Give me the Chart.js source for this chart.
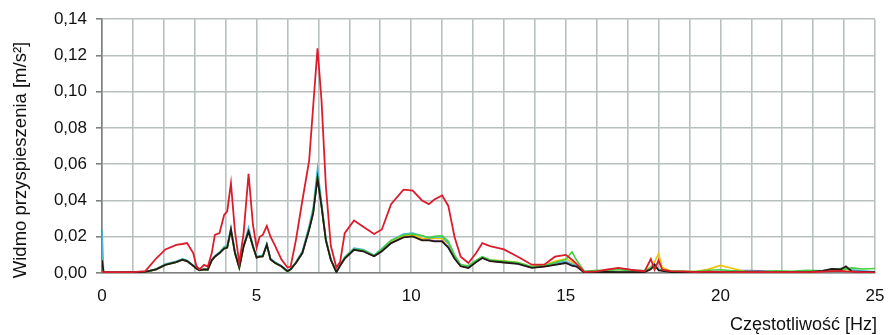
<!DOCTYPE html>
<html>
<head>
<meta charset="utf-8">
<script src="https://cdn.jsdelivr.net/npm/chart.js@4/dist/chart.umd.min.js"></script>
<style>
  body { margin: 0; background: #fff; }
  #wrap { width: 890px; height: 335px; }
</style>
</head>
<body>
<div id="wrap"><canvas id="chart"></canvas></div>
<script>
// frequency points [Hz] shared by all traces
const freq = [
  0, 0.05, 0.5, 1.0, 1.4, 1.75, 2.05, 2.4, 2.6, 2.75,
  2.95, 3.05, 3.15, 3.3, 3.42, 3.55, 3.65, 3.8, 3.95, 4.05,
  4.17, 4.3, 4.44, 4.58, 4.74, 4.88, 5.0, 5.1, 5.2, 5.33,
  5.45, 5.6, 5.8, 6.0, 6.1, 6.27, 6.48, 6.7, 6.83, 6.97,
  7.1, 7.24, 7.4, 7.58, 7.7, 7.85, 8.15, 8.45, 8.8, 9.05,
  9.35, 9.75, 10.05, 10.35, 10.57, 10.75, 11.0, 11.2, 11.4, 11.6,
  11.85, 12.1, 12.3, 12.55, 13.0, 13.45, 13.9, 14.3, 14.65, 15.0,
  15.2, 15.35, 15.6, 16.0, 16.3, 16.7, 17.1, 17.55, 17.75, 17.87,
  18.0, 18.12, 18.4, 18.8, 19.2, 19.6, 20.0, 20.4, 20.8, 21.3,
  21.8, 22.3, 22.8, 23.3, 23.6, 23.9, 24.06, 24.25, 24.6, 25.0
];

const red = [
  0.001, 0.0005, 0.0004, 0.0005, 0.001, 0.008, 0.013, 0.0155, 0.016, 0.0165,
  0.011, 0.004, 0.002, 0.0045, 0.0035, 0.011, 0.021, 0.022, 0.032, 0.034,
  0.0495, 0.023, 0.0055, 0.022, 0.0547, 0.027, 0.014, 0.020, 0.021, 0.026,
  0.020, 0.015, 0.0075, 0.003, 0.0035, 0.018, 0.040, 0.062, 0.092, 0.124,
  0.095, 0.048, 0.015, 0.003, 0.006, 0.022, 0.029, 0.0255, 0.0215, 0.024,
  0.038, 0.046, 0.0455, 0.040, 0.038, 0.0405, 0.0428, 0.037, 0.020, 0.009,
  0.0055, 0.011, 0.0165, 0.0148, 0.013, 0.009, 0.0046, 0.0046, 0.009, 0.010,
  0.0073, 0.005, 0.0006, 0.0009, 0.0018, 0.0028, 0.0018, 0.001, 0.0077, 0.0018,
  0.007, 0.0018, 0.001, 0.0009, 0.0005, 0.0008, 0.0006, 0.0004, 0.0005, 0.0004,
  0.0004, 0.0004, 0.0005, 0.0008, 0.001, 0.0012, 0.0009, 0.0008, 0.0005, 0.0002
];

const black = [
  0.007, 0.0005, 0.0003, 0.0004, 0.0006, 0.002, 0.0045, 0.006, 0.0073, 0.0066,
  0.004, 0.0025, 0.0015, 0.002, 0.0018, 0.007, 0.009, 0.011, 0.0135, 0.014,
  0.024, 0.011, 0.003, 0.0147, 0.023, 0.0147, 0.0085, 0.009, 0.0092, 0.0156,
  0.0075, 0.0055, 0.0037, 0.001, 0.002, 0.0055, 0.011, 0.024, 0.033, 0.0523,
  0.0367, 0.018, 0.0073, 0.0005, 0.004, 0.008, 0.0128, 0.012, 0.0092, 0.012,
  0.0165, 0.0196, 0.0202, 0.018, 0.018, 0.0175, 0.0174, 0.014, 0.008, 0.0037,
  0.0028, 0.006, 0.0083, 0.0065, 0.0058, 0.005, 0.0028, 0.0035, 0.0045, 0.0055,
  0.004, 0.0035, 0.0002, 0.0004, 0.0006, 0.0005, 0.0004, 0.0005, 0.002, 0.0046,
  0.0015, 0.0012, 0.0005, 0.0004, 0.0004, 0.0004, 0.0003, 0.0004, 0.0004, 0.0003,
  0.0003, 0.0004, 0.0005, 0.0012, 0.0022, 0.002, 0.0037, 0.0009, 0.0006, 0.0004
];

const green = [
  0.002, 0.0005, 0.0003, 0.0004, 0.0006, 0.002, 0.0046, 0.006, 0.0074, 0.0067,
  0.004, 0.0025, 0.0015, 0.002, 0.0018, 0.007, 0.009, 0.011, 0.0138, 0.0142,
  0.0238, 0.011, 0.0025, 0.0148, 0.023, 0.0148, 0.0085, 0.009, 0.0092, 0.0156,
  0.0075, 0.0055, 0.0037, 0.0005, 0.002, 0.0058, 0.0112, 0.0245, 0.034, 0.0535,
  0.037, 0.0185, 0.0075, 0.0004, 0.0042, 0.0085, 0.0132, 0.0125, 0.0095, 0.0132,
  0.018, 0.021, 0.0215, 0.0205, 0.0195, 0.0202, 0.0205, 0.0175, 0.01, 0.0045,
  0.004, 0.007, 0.009, 0.0072, 0.0065, 0.0058, 0.0035, 0.004, 0.0058, 0.0075,
  0.0116, 0.007, 0.001, 0.0015, 0.0012, 0.002, 0.0012, 0.0015, 0.0025, 0.004,
  0.0018, 0.0015, 0.0012, 0.001, 0.0008, 0.0015, 0.0018, 0.0012, 0.001, 0.0008,
  0.0012, 0.001, 0.0015, 0.0012, 0.0018, 0.0025, 0.002, 0.0028, 0.0022, 0.0025
];

const cyan = [
  0.024, 0.0006, 0.0004, 0.0005, 0.0007, 0.0022, 0.005, 0.0065, 0.0078, 0.007,
  0.0042, 0.0028, 0.0017, 0.0022, 0.002, 0.0075, 0.0095, 0.0115, 0.0145, 0.015,
  0.025, 0.012, 0.0033, 0.0155, 0.025, 0.0155, 0.009, 0.0095, 0.0098, 0.0162,
  0.008, 0.006, 0.004, 0.0012, 0.0022, 0.006, 0.012, 0.026, 0.036, 0.0578,
  0.039, 0.019, 0.0078, 0.0006, 0.0045, 0.0088, 0.0138, 0.013, 0.0098, 0.0135,
  0.018, 0.0215, 0.022, 0.0205, 0.0195, 0.0198, 0.020, 0.0165, 0.0095, 0.0045,
  0.0035, 0.0068, 0.0088, 0.007, 0.0062, 0.0055, 0.0033, 0.004, 0.0055, 0.0065,
  0.005, 0.004, 0.0003, 0.0005, 0.0008, 0.0006, 0.0005, 0.0006, 0.003, 0.005,
  0.002, 0.0015, 0.0006, 0.0005, 0.0005, 0.0005, 0.0005, 0.0005, 0.0005, 0.0004,
  0.0004, 0.0005, 0.0006, 0.0012, 0.002, 0.0025, 0.003, 0.0018, 0.0012, 0.0006
];

const yellow = [
  0.001, 0.0005, 0.0003, 0.0004, 0.0006, 0.002, 0.0045, 0.006, 0.0072, 0.0066,
  0.004, 0.0025, 0.0015, 0.002, 0.0018, 0.007, 0.009, 0.011, 0.0135, 0.014,
  0.0236, 0.011, 0.003, 0.0147, 0.0232, 0.0147, 0.0085, 0.009, 0.0092, 0.0155,
  0.0075, 0.0055, 0.0037, 0.0008, 0.002, 0.0056, 0.0112, 0.0242, 0.0335, 0.053,
  0.037, 0.0182, 0.0074, 0.0005, 0.0041, 0.0082, 0.013, 0.0122, 0.0094, 0.0128,
  0.0175, 0.0205, 0.021, 0.019, 0.019, 0.019, 0.019, 0.016, 0.009, 0.004,
  0.0035, 0.0065, 0.0085, 0.0072, 0.0068, 0.0058, 0.0035, 0.0042, 0.0065, 0.0078,
  0.006, 0.004, 0.0005, 0.0006, 0.0008, 0.0009, 0.0007, 0.0008, 0.0035, 0.006,
  0.0106, 0.003, 0.001, 0.0008, 0.0008, 0.002, 0.0042, 0.0025, 0.0008, 0.0006,
  0.0005, 0.0005, 0.0006, 0.001, 0.0015, 0.0018, 0.002, 0.0012, 0.0008, 0.0005
];

const purple = [
  0.001, 0.0005, 0.0003, 0.0004, 0.0006, 0.002, 0.0045, 0.006, 0.0072, 0.0066,
  0.004, 0.0025, 0.0015, 0.002, 0.0018, 0.007, 0.009, 0.011, 0.0135, 0.014,
  0.0236, 0.011, 0.003, 0.0147, 0.0228, 0.0147, 0.0085, 0.009, 0.0092, 0.0155,
  0.0075, 0.0055, 0.0037, 0.0008, 0.002, 0.0055, 0.011, 0.024, 0.033, 0.052,
  0.0365, 0.018, 0.0073, 0.0005, 0.004, 0.008, 0.0128, 0.012, 0.0092, 0.012,
  0.0165, 0.0198, 0.0204, 0.0182, 0.0182, 0.0178, 0.0176, 0.0142, 0.0082, 0.0038,
  0.003, 0.006, 0.0083, 0.0066, 0.006, 0.0052, 0.003, 0.0036, 0.0048, 0.0058,
  0.0042, 0.0036, 0.0003, 0.0005, 0.0006, 0.0006, 0.0005, 0.0006, 0.0025, 0.0048,
  0.0018, 0.0013, 0.0006, 0.0005, 0.0005, 0.0006, 0.0008, 0.0012, 0.0014, 0.0012,
  0.0006, 0.0005, 0.0005, 0.001, 0.0018, 0.0018, 0.0025, 0.001, 0.0007, 0.0004
];

const xTicks = [0, 5, 10, 15, 20, 25];
const yTitle = "Widmo przyspieszenia [m/s²]";
const xTitle = "Częstotliwość [Hz]";

const FONT = "'Liberation Sans', Arial, sans-serif";

const toPoints = (vals) => vals.map((v, i) => ({ x: freq[i], y: v }));

const line = (label, vals, color, width) => ({
  label: label,
  data: toPoints(vals),
  borderColor: color,
  borderWidth: width,
  pointRadius: 0,
  tension: 0,
  fill: false,
});

// axis titles drawn at fixed spots like in the original figure
const titles = {
  id: "titles",
  afterDraw(chart) {
    const ctx = chart.ctx;
    ctx.save();
    ctx.fillStyle = "#111";
    ctx.font = "18px " + FONT;
    ctx.textAlign = "right";
    ctx.textBaseline = "middle";
    ctx.fillText(xTitle, 877, 325);
    ctx.translate(21, 160);
    ctx.rotate(-Math.PI / 2);
    ctx.textAlign = "center";
    ctx.font = "18.5px " + FONT;
    ctx.fillText(yTitle, 0, 0);
    ctx.restore();
  },
};

new Chart(document.querySelector("#chart"), {
  type: "line",
  data: {
    datasets: [
      line("czerwony", red, "#dc1c2c", 1.8),
      line("czarny", black, "#241a14", 1.8),
      line("zielony", green, "#44d040", 1.6),
      line("niebieski", cyan, "#4cb4d8", 1.6),
      line("żółty", yellow, "#f2c200", 1.6),
      line("fioletowy", purple, "#8a4cc8", 1.6),
    ],
  },
  options: {
    responsive: true,
    maintainAspectRatio: false,
    animation: false,
    layout: { padding: { left: 0, top: 19, right: 15, bottom: 0 } },
    plugins: { legend: { display: false }, tooltip: { enabled: false } },
    scales: {
      x: {
        type: "linear",
        min: 0,
        max: 25,
        afterFit: (s) => {
          s.height = 62;
          s.paddingLeft = 0;
          s.paddingRight = 0;
        },
        afterBuildTicks: (s) => {
          const t = [];
          for (let i = 0; i <= 25; i++) t.push({ value: i });
          s.ticks = t;
        },
        ticks: {
          autoSkip: false,
          maxRotation: 0,
          padding: 13,
          color: "#111",
          font: { family: FONT, size: 17 },
          callback: (v) => (xTicks.includes(v) ? String(v) : ""),
        },
        grid: { color: "#b8c0c0", lineWidth: 1.6, drawTicks: false },
        border: { color: "#808080", width: 1.6 },
      },
      y: {
        min: 0,
        max: 0.14,
        afterFit: (s) => { s.width = 102; },
        ticks: {
          stepSize: 0.02,
          padding: 9,
          color: "#111",
          font: { family: FONT, size: 17 },
          callback: (v) => v.toFixed(2).replace(".", ","),
        },
        grid: { color: "#b8c0c0", lineWidth: 1.6, tickLength: 6, tickColor: "#808080" },
        border: { color: "#808080", width: 1.6 },
      },
    },
  },
  plugins: [titles],
});
</script>
</body>
</html>
